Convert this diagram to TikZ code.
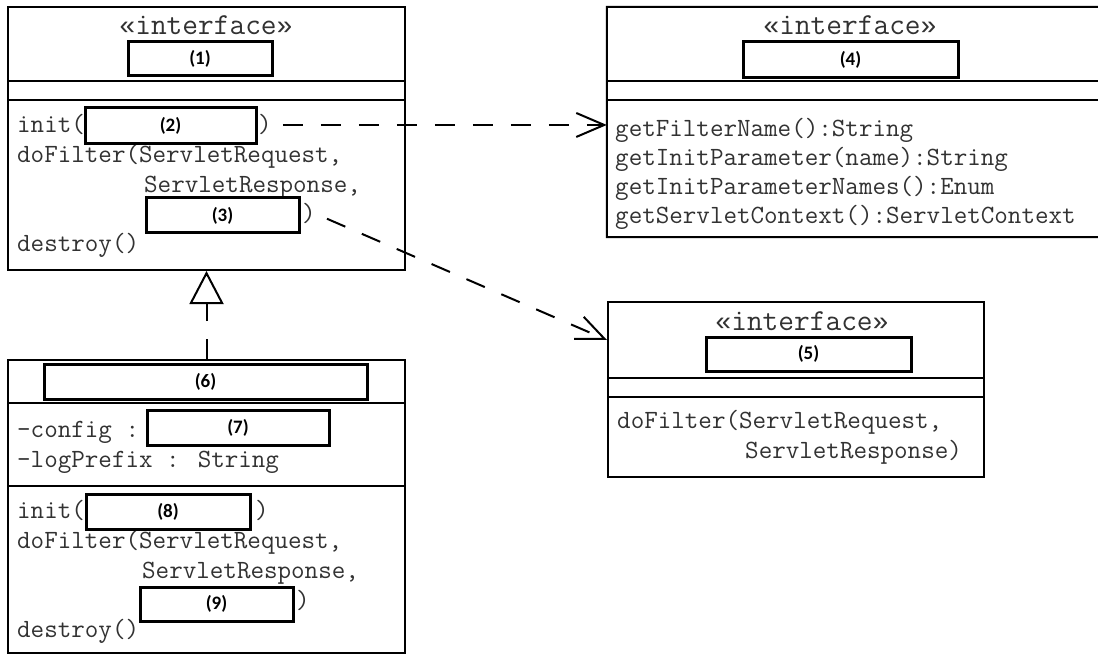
\documentclass[tikz,border=0pt]{standalone}
\usepackage{fontspec}
\newfontfamily\lab{Carlito}
\newfontfamily\gmono{Liberation Mono}
\usetikzlibrary{arrows.meta}
\definecolor{ink}{RGB}{50,50,50}
\newcommand{\stereotxt}{{\gmono\fontsize{27}{32}\selectfont«}interface{\gmono\fontsize{27}{32}\selectfont»}}
\begin{document}
\begin{tikzpicture}[x=1pt,y=-1pt,
  classbox/.style={draw, line width=2pt, inner sep=0pt},
  divider/.style={line width=2pt},
  labbox/.style={draw, line width=3pt, fill=white, inner sep=0pt,
    font=\lab\bfseries\fontsize{19}{19}\selectfont},
  code/.style={anchor=base west, inner sep=0pt, text=ink,
    font=\ttfamily\fontsize{26.3}{29}\selectfont},
  stereo/.style={anchor=base, inner sep=0pt, text=ink,
    font=\ttfamily\fontsize{30.5}{32}\selectfont},
  dep/.style={line width=2pt, dash pattern=on 20pt off 18pt,
    -{Straight Barb[length=28pt,width=24pt]}},
  real/.style={line width=2pt, dash pattern=on 20pt off 18pt,
    -{Triangle[open,length=33pt,width=34pt]}}
]
\useasboundingbox (0,0) rectangle (1098,655);
\fill[white] (0,0) rectangle (1098,655);

% ---- class 1 (top left interface)
\node[classbox, minimum width=397pt, minimum height=263pt] (c1) at (206.5,138.5) {};
\draw[divider] (c1.west |- 0,81) -- (c1.east |- 0,81);
\draw[divider] (c1.west |- 0,100) -- (c1.east |- 0,100);
\node[stereo] (s1) at (206,35) {\stereotxt};
\node[code] (t11) at (17,133) {init(};
\node[code] (t12) at (17,163) {doFilter(ServletRequest,};
\node[code] (t13) at (144,193) {ServletResponse,};
\node[code] (t14) at (17,252) {destroy()};
\node[code] (rp2) at (258,133) {)};
\node[code] (rp3) at (302,222) {)};
\node[labbox, minimum width=144pt, minimum height=34pt] (l1) at (200,59) {(1)};
\node[labbox, minimum width=171pt, minimum height=36pt] (l2) at (170.5,126) {(2)};
\node[labbox, minimum width=153pt, minimum height=35pt] (l3) at (222.5,215.5) {(3)};

% ---- class 2 (bottom left implementation)
\node[classbox, minimum width=397pt, minimum height=293pt] (c2) at (206.5,506.5) {};
\draw[divider] (c2.west |- 0,403) -- (c2.east |- 0,403);
\draw[divider] (c2.west |- 0,486) -- (c2.east |- 0,486);
\node[code] (t21) at (17,437) {-config :};
\node[code] (t22) at (17,467) {-logPrefix : String};
\node[code] (t23) at (17,518) {init(};
\node[code] (t24) at (17,548) {doFilter(ServletRequest,};
\node[code] (t25) at (142,578) {ServletResponse,};
\node[code] (t26) at (17,637) {destroy()};
\node[code] (rp8) at (255,518) {)};
\node[code] (rp9) at (296,608) {)};
\node[labbox, minimum width=323pt, minimum height=35pt] (l6) at (205.5,381.5) {(6)};
\node[labbox, minimum width=182pt, minimum height=35pt] (l7) at (238,427.5) {(7)};
\node[labbox, minimum width=164pt, minimum height=35pt] (l8) at (168,511.5) {(8)};
\node[labbox, minimum width=153pt, minimum height=34pt] (l9) at (216.5,604) {(9)};

% ---- class 4 (top right interface, right side cut off)
\node[inner sep=0pt, minimum width=491pt, minimum height=230pt] (c4) at (852.5,122) {};
\draw[divider] (1100,7) -- (c4.north west) -- (c4.south west) -- (1100,237);
\draw[divider] (c4.west |- 0,81) -- (1100,81);
\draw[divider] (c4.west |- 0,100) -- (1100,100);
\node[stereo] (s4) at (850,35) {\stereotxt};
\node[code] (t41) at (615,137) {getFilterName():String};
\node[code] (t42) at (615,166) {getInitParameter(name):String};
\node[code] (t43) at (615,195) {getInitParameterNames():Enum};
\node[code] (t44) at (615,224) {getServletContext():ServletContext};
\node[labbox, minimum width=215pt, minimum height=36pt] (l4) at (850.5,60) {(4)};

% ---- class 5 (middle right interface)
\node[classbox, minimum width=376pt, minimum height=175pt] (c5) at (796,389.5) {};
\draw[divider] (c5.west |- 0,378) -- (c5.east |- 0,378);
\draw[divider] (c5.west |- 0,397) -- (c5.east |- 0,397);
\node[stereo] (s5) at (802,330) {\stereotxt};
\node[code] (t51) at (617,428) {doFilter(ServletRequest,};
\node[code] (t52) at (745,458) {ServletResponse)};
\node[labbox, minimum width=205pt, minimum height=34pt] (l5) at (808.5,354) {(5)};

% ---- connectors
\coordinate (t5) at (607,340);
\draw[dep, shorten <=11pt] (rp2.east) -- (rp2.east -| c4.west);
\draw[dep, shorten <=12pt] (rp3.east) -- (t5);
\draw[real] (c2.north) -- (c1.south);
\end{tikzpicture}
\end{document}
